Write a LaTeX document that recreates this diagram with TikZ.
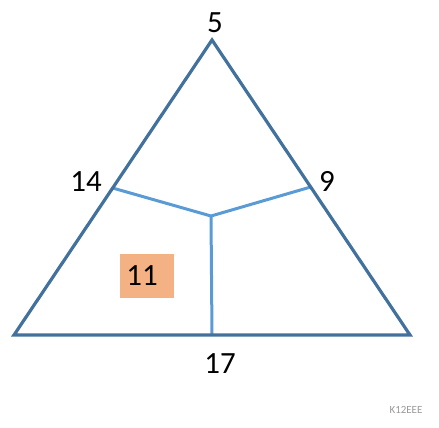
\documentclass[tikz,border=0pt]{standalone}
\usepackage{fontspec}
\setmainfont{Carlito}
\usetikzlibrary{calc}
\definecolor{edgeblue}{HTML}{41719C}
\definecolor{splitblue}{HTML}{5B9BD5}
\definecolor{boxorange}{HTML}{F4B183}
\begin{document}
\begin{tikzpicture}[x=1bp,y=-1bp,
  num/.style={font=\fontsize{31}{36}\selectfont}]
  \useasboundingbox (0,0) rectangle (439,427);
  \coordinate (A) at (212,40);
  \coordinate (B) at (14,335);
  \coordinate (C) at (410,335);
  \coordinate (L) at ($(A)!0.5017!(B)$);
  \coordinate (R) at ($(A)!0.4983!(C)$);
  \coordinate (M) at (211,216);
  \coordinate (D) at (212,335);
  \draw[color=splitblue,line width=3bp] (L) -- (M) -- (R);
  \draw[color=splitblue,line width=3bp] (M) -- (D);
  \draw[color=edgeblue,line width=3.2bp,line join=miter] (A) -- (B) -- (C) -- cycle;
  \node[num] (top) at (215,23) {5};
  \node[num] (left) at (86,182) {14};
  \node[num] (right) at (327,181) {9};
  \node[num] (bottom) at (220,364) {17};
  \node[num,fill=boxorange,minimum width=54bp,minimum height=44bp,inner sep=0pt] (area) at (146.5,276) {11\kern9bp\relax};
  \node[font=\fontsize{11}{12}\selectfont,text=black!40] (mark) at (406,410) {K12EEE};
\end{tikzpicture}
\end{document}
